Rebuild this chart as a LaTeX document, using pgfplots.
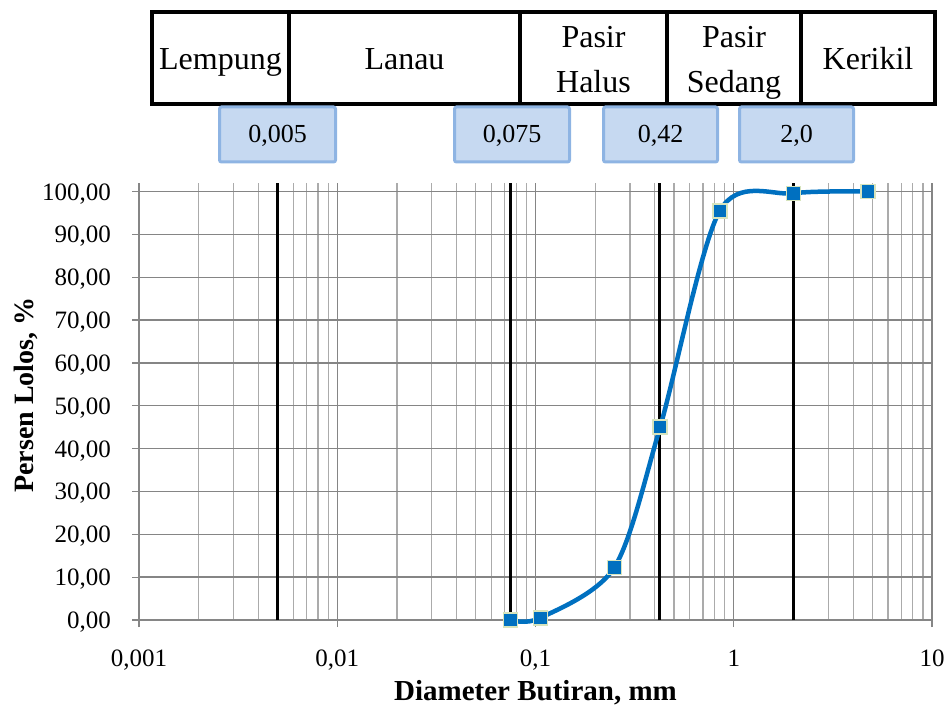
\documentclass[border=0pt]{standalone}
\usepackage{fontspec}
\setmainfont{Liberation Serif}
\usepackage{pgfplots}
\pgfplotsset{compat=1.18}
\definecolor{curve}{HTML}{0070C0}
\definecolor{mkedge}{HTML}{D7E4BD}
\definecolor{boxfill}{HTML}{C6D9F1}
\definecolor{boxedge}{HTML}{8EB4E3}
\definecolor{gridmaj}{HTML}{858585}
\definecolor{gridmin}{HTML}{ABABAB}
\definecolor{axgray}{HTML}{868686}
\begin{document}
\begin{tikzpicture}[x=1pt,y=1pt]
\path[use as bounding box] (0,0) rectangle (952,706);
\begin{axis}[
  at={(139pt,86pt)}, anchor=south west,
  scale only axis, width=793pt, height=437pt,
  xmode=log, xmin=0.001, xmax=10, ymin=0, ymax=102,
  xtick={0.001,0.01,0.1,1,10},
  xticklabels={{0,001},{0,01},{0,1},{1},{10}},
  minor xtick={0.002,0.003,0.004,0.005,0.006,0.007,0.008,0.009,
               0.02,0.03,0.04,0.05,0.06,0.07,0.08,0.09,
               0.2,0.3,0.4,0.5,0.6,0.7,0.8,0.9,
               2,3,4,5,6,7,8,9},
  ytick={0,10,20,30,40,50,60,70,80,90,100},
  axis x line*=bottom, axis y line*=left,
  axis line style={-, axgray, line width=1.3pt},
  major tick length=7pt, minor tick length=0pt,
  tick align=outside,
  tick style={axgray, line width=1.3pt},
  xmajorgrids=true, xminorgrids=true, ymajorgrids=true,
  major grid style={gridmaj, line width=1.4pt},
  minor grid style={gridmin, line width=1.2pt},
  /pgf/number format/assume math mode=true,
  yticklabel={\pgfmathprintnumber[fixed,fixed zerofill,precision=2,use comma,assume math mode=true]{\tick}},
  xticklabel style={font=\fontsize{25}{30}\selectfont, anchor=base, inner sep=0pt, yshift=-39pt},
  yticklabel style={font=\fontsize{25}{30}\selectfont, anchor=base east, inner sep=0pt, xshift=-21pt, yshift=-8.5pt},
  xlabel={Diameter Butiran, mm},
  ylabel={Persen Lolos, \%},
  every axis x label/.style={at={(rel axis cs:0.5,0)}, anchor=base, yshift=-80pt,
     font=\bfseries\fontsize{29}{34}\selectfont},
  every axis y label/.style={at={(rel axis cs:0,0.5)}, anchor=center, xshift=-113pt, yshift=6.5pt, rotate=90,
     font=\bfseries\fontsize{28}{34}\selectfont},
  clip=false,
]
\addplot[black, line width=3pt] coordinates {(0.005,0) (0.005,102)};
\addplot[black, line width=3pt] coordinates {(0.075,0) (0.075,102)};
\addplot[black, line width=3pt] coordinates {(0.42,0) (0.42,102)};
\addplot[black, line width=3pt] coordinates {(2.0,0) (2.0,102)};
\addplot[curve, line width=4.5pt, smooth, mark=square*, mark size=7pt,
  mark options={fill=curve, draw=mkedge, line width=1.5pt}]
  coordinates {(0.075,0) (0.106,0.5) (0.25,12.3) (0.425,45.0) (0.85,95.5) (2.0,99.6) (4.75,100)};
\end{axis}
% classification table
\draw[line width=4pt] (152,602) rectangle (935,694);
\draw[line width=4pt] (289,602) -- (289,694);
\draw[line width=4pt] (520,602) -- (520,694);
\draw[line width=4pt] (667,602) -- (667,694);
\draw[line width=4pt] (801,602) -- (801,694);
\begin{scope}[every node/.style={font=\fontsize{32}{38}\selectfont, inner sep=0pt, anchor=base}]
\node at (220.5,636) {Lempung};
\node at (404.5,636) {Lanau};
\node at (593.5,658) {Pasir};
\node at (593.5,613) {Halus};
\node at (734,658) {Pasir};
\node at (734,613) {Sedang};
\node at (868,636) {Kerikil};
\end{scope}
\begin{scope}[every node/.style={font=\fontsize{26}{30}\selectfont, inner sep=0pt, anchor=base}]
\filldraw[fill=boxfill, draw=boxedge, line width=3pt, rounded corners=2pt] (219.5,544) rectangle (335.5,599);
\filldraw[fill=boxfill, draw=boxedge, line width=3pt, rounded corners=2pt] (454.5,544) rectangle (569.5,599);
\filldraw[fill=boxfill, draw=boxedge, line width=3pt, rounded corners=2pt] (603.5,544) rectangle (717.5,599);
\filldraw[fill=boxfill, draw=boxedge, line width=3pt, rounded corners=2pt] (739.5,544) rectangle (853.5,599);
\node at (277.5,563) {0,005};
\node at (512,563) {0,075};
\node at (660.5,563) {0,42};
\node at (796.5,563) {2,0};
\end{scope}
\end{tikzpicture}
\end{document}
